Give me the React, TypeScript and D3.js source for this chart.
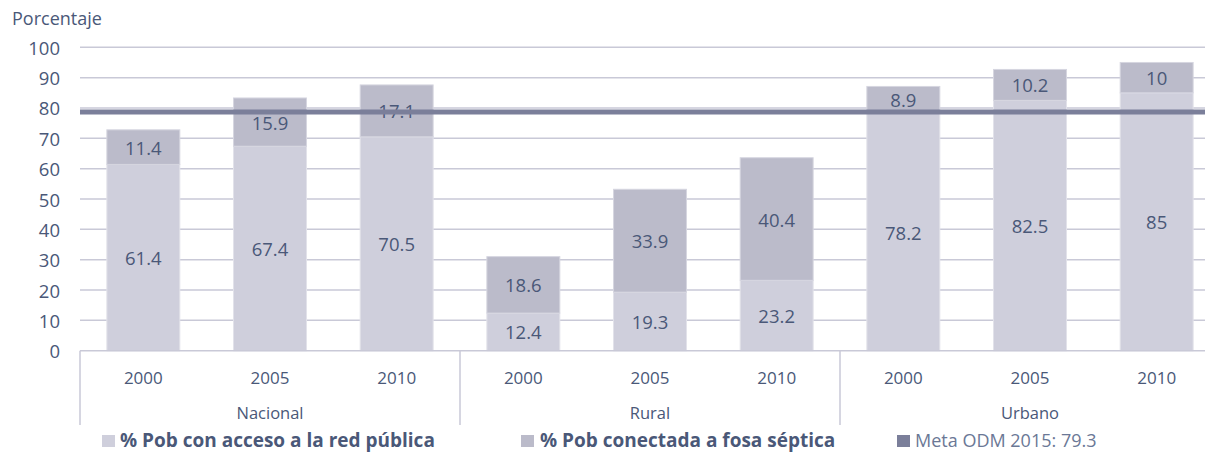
import React from "react";
import * as d3 from "d3";

const groups = ["Nacional", "Rural", "Urbano"];
const years = ["2000", "2005", "2010"];
const redPublica = [61.4, 67.4, 70.5, 12.4, 19.3, 23.2, 78.2, 82.5, 85];
const fosaSeptica = [11.4, 15.9, 17.1, 18.6, 33.9, 40.4, 8.9, 10.2, 10];
const yTicks = [0, 10, 20, 30, 40, 50, 60, 70, 80, 90, 100];
const metaLineValue = 78.7;
const metaLabel = "Meta ODM 2015: 79.3";
const legendLabels = ["% Pob con acceso a la red pública", "% Pob conectada a fosa séptica"];

const W = 1205;
const H = 453;
const FONT = "'Open Sans', sans-serif";
const TEXT = "#4a5878";
const C_RED = "#cfcfdc";
const C_FOSA = "#bbbbca";
const C_LINE = "#7b7f9a";
const C_GRID = "#c9c9d7";

export default function App() {
  const left = 80;
  const right = 1220;
  const y = d3.scaleLinear().domain([0, 100]).range([350.7, 47.3]);
  const keys = groups.flatMap((g) => years.map((yr) => `${g}-${yr}`));
  const x = d3.scaleBand<string>().domain(keys).range([left, right]).paddingInner(0.424).paddingOuter(0.212);
  const gx = d3.scaleBand<string>().domain(groups).range([left, right]);
  const bw = x.bandwidth();
  const fmt = (v: number) => String(v);

  return (
    <svg width={W} height={H} style={{ position: "absolute", left: 0, top: 0, background: "#fff" }}>
      <text x={12} y={25} fontFamily={FONT} fontSize={18} fill={TEXT}>Porcentaje</text>
      {yTicks.map((t) => (
        <g key={t}>
          {t > 0 && <line x1={left} x2={W} y1={y(t)} y2={y(t)} stroke={C_GRID} strokeWidth={1.5} />}
          <text x={60} y={y(t)} textAnchor="end" dominantBaseline="central" fontFamily={FONT} fontSize={18.5} fill={TEXT}>{t}</text>
        </g>
      ))}
      {keys.map((k, i) => {
        const x0 = x(k)!;
        const a = redPublica[i];
        const b = fosaSeptica[i];
        return (
          <g key={k}>
            <rect x={x0} y={y(a)} width={bw} height={y(0) - y(a)} fill={C_RED} stroke="#e2e2ea" strokeWidth={1} />
            <rect x={x0} y={y(a + b)} width={bw} height={y(a) - y(a + b)} fill={C_FOSA} stroke="#d6d6e0" strokeWidth={1} />
            <text x={x0 + bw / 2} y={y(a / 2)} textAnchor="middle" dominantBaseline="central" fontFamily={FONT} fontSize={18.5} fill={TEXT}>{fmt(a)}</text>
            <text x={x0 + bw / 2} y={y(a + b / 2)} textAnchor="middle" dominantBaseline="central" fontFamily={FONT} fontSize={18.5} fill={TEXT}>{fmt(b)}</text>
            <text x={x0 + bw / 2} y={377} textAnchor="middle" dominantBaseline="central" fontFamily={FONT} fontSize={17} fill={TEXT}>{k.split("-")[1]}</text>
          </g>
        );
      })}
      <line x1={left} x2={W} y1={y(metaLineValue)} y2={y(metaLineValue)} stroke={C_LINE} strokeWidth={5} />
      <line x1={left} x2={W} y1={y(0)} y2={y(0)} stroke={C_GRID} strokeWidth={1.5} />
      {groups.map((g) => (
        <g key={g}>
          <line x1={gx(g)!} x2={gx(g)!} y1={y(0)} y2={425} stroke={C_GRID} strokeWidth={1.5} />
          <text x={gx(g)! + gx.bandwidth() / 2} y={412} textAnchor="middle" dominantBaseline="central" fontFamily={FONT} fontSize={16.5} fill={TEXT}>{g}</text>
        </g>
      ))}
      <rect x={102} y={435} width={13} height={12} fill={C_RED} />
      <text x={120} y={447} fontFamily={FONT} fontSize={19} fontWeight="bold" fill={TEXT}>{legendLabels[0]}</text>
      <rect x={521} y={435} width={13} height={12} fill={C_FOSA} />
      <text x={540} y={447} fontFamily={FONT} fontSize={19} fontWeight="bold" fill={TEXT}>{legendLabels[1]}</text>
      <rect x={897} y={435} width={13} height={12} fill={C_LINE} />
      <text x={915} y={447} fontFamily={FONT} fontSize={18} fill="#6b7896">{metaLabel}</text>
    </svg>
  );
}
